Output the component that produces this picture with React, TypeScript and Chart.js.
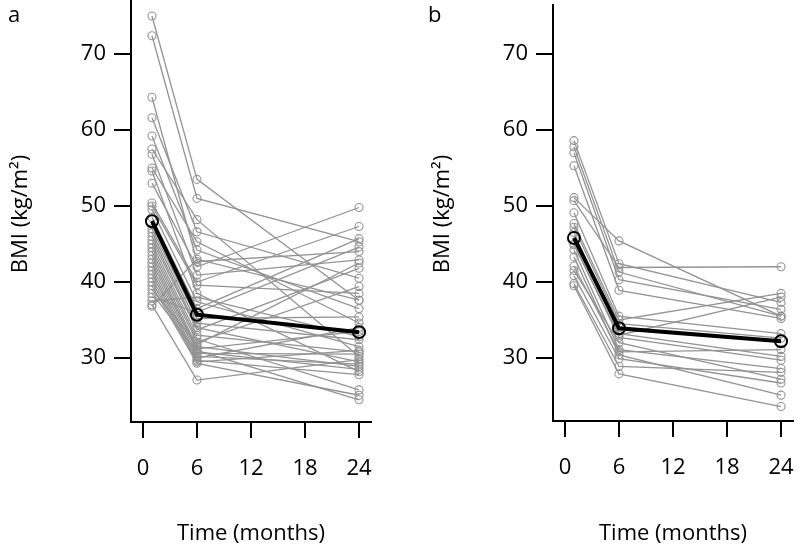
import React, { useEffect, useRef } from "react";
import { Chart, registerables } from "chart.js";

Chart.register(...registerables);

// ---- data ----
const MONTHS = [1, 6, 24];
const X_TICKS = [0, 6, 12, 18, 24];
const Y_TICKS = [30, 40, 50, 60, 70];

// Panel a: individual patients (BMI at 1, 6, 24 months)
const A_MONTH1 = [75.0, 72.4, 64.3, 61.6, 59.2, 57.5, 56.8, 55.0, 54.6, 53.0, 50.4, 50.0, 49.5, 48.5, 47.0, 46.5, 46.0, 45.5, 45.0, 44.5, 44.0, 43.5, 43.0, 42.5, 42.0, 41.5, 41.0, 40.5, 40.0, 39.5, 39.0, 38.5, 38.0, 37.5, 37.0, 36.8];
const A_MONTH6 = [53.5, 51.0, 42.7, 46.6, 44.2, 48.2, 40.9, 45.3, 38.5, 42.0, 40.0, 39.6, 37.4, 36.5, 35.2, 34.6, 34.0, 33.7, 33.0, 32.5, 32.1, 31.5, 31.2, 31.0, 30.6, 30.2, 30.0, 29.7, 29.5, 29.3, 31.8, 30.8, 36.0, 38.0, 27.1, 43.0];
const A_MONTH24 = [37.6, 45.3, 44.0, 40.5, 36.5, 30.2, 42.9, 34.6, 28.2, 49.8, 47.3, 38.5, 31.5, 45.7, 35.4, 32.4, 29.5, 41.8, 30.8, 25.8, 39.4, 28.9, 33.5, 24.5, 30.5, 29.2, 34.0, 27.8, 31.0, 25.1, 42.5, 28.5, 44.6, 32.8, 29.8, 37.6];
const A_MEAN = [48.0, 35.7, 33.4];

// Panel b
const B_MONTH1 = [58.6, 57.8, 57.0, 55.3, 51.1, 50.7, 49.1, 47.7, 47.2, 46.5, 45.0, 44.9, 44.2, 43.3, 42.1, 40.8, 39.8, 39.5, 41.5];
const B_MONTH6 = [42.4, 41.3, 40.3, 38.9, 45.4, 41.9, 35.5, 35.0, 34.5, 33.2, 32.7, 33.0, 31.1, 30.4, 30.8, 29.9, 28.9, 27.9, 32.0];
const B_MONTH24 = [37.3, 35.5, 36.4, 35.2, 35.5, 42.0, 33.2, 38.5, 32.6, 30.2, 29.7, 38.0, 28.6, 25.1, 31.1, 26.7, 28.1, 23.6, 27.2];
const B_MEAN = [45.8, 33.9, 32.2];

const FONT = '"Open Sans", "DejaVu Sans", sans-serif';
const X_MIN = -1.33;
const X_MAX = 25.33;

type Panel = {
  letter: string;
  m1: number[];
  m6: number[];
  m24: number[];
  mean: number[];
  yMin: number;
  yMax: number;
  axisLeft: number;
  padRight: number;
  padTop: number;
  xAxisHeight: number;
  letterX: number;
  titleX: number;
};

const PANELS: Panel[] = [
  { letter: "a", m1: A_MONTH1, m6: A_MONTH6, m24: A_MONTH24, mean: A_MEAN, yMin: 21.58, yMax: 77.1, axisLeft: 131, padRight: 29, padTop: 0, xAxisHeight: 127, letterX: 8, titleX: 21 },
  { letter: "b", m1: B_MONTH1, m6: B_MONTH6, m24: B_MONTH24, mean: B_MEAN, yMin: 21.7, yMax: 76.45, axisLeft: 153, padRight: 7, padTop: 5, xAxisHeight: 128, letterX: 28, titleX: 43 },
];

function buildConfig(p: Panel): any {
  const cols = [p.m1, p.m6, p.m24];
  const patients = p.m1.map((_, i) => ({
    data: MONTHS.map((m, j) => ({ x: m, y: cols[j][i] })),
    borderColor: "#939393",
    borderWidth: 1.3,
    pointRadius: 4,
    pointBorderWidth: 1.1,
    pointBorderColor: "#939393",
    pointBackgroundColor: "rgba(0,0,0,0)",
    fill: false,
    clip: false,
  }));
  const meanSet = {
    data: MONTHS.map((m, j) => ({ x: m, y: p.mean[j] })),
    borderColor: "#000",
    borderWidth: 4,
    pointRadius: 6,
    pointBorderWidth: 2,
    pointBorderColor: "#000",
    pointBackgroundColor: "rgba(0,0,0,0)",
    fill: false,
    clip: false,
  };
  const textPlugin = {
    id: "panelText" + p.letter,
    afterDraw(chart: any) {
      const ctx = chart.ctx;
      ctx.save();
      ctx.fillStyle = "#000";
      ctx.font = `22px ${FONT}`;
      ctx.textAlign = "left";
      ctx.textBaseline = "middle";
      ctx.fillText(p.letter, p.letterX, 16);
      ctx.translate(p.titleX, 214);
      ctx.rotate(-Math.PI / 2);
      ctx.textAlign = "center";
      ctx.fillText("BMI (kg/m²)", 0, 0);
      ctx.restore();
    },
  };
  return {
    type: "line",
    data: { datasets: [meanSet, ...patients] },
    plugins: [textPlugin],
    options: {
      animation: false,
      responsive: false,
      maintainAspectRatio: false,
      layout: { autoPadding: false, padding: { left: 0, right: p.padRight, top: p.padTop, bottom: 0 } },
      plugins: { legend: { display: false }, tooltip: { enabled: false } },
      elements: { line: { tension: 0 } },
      scales: {
        x: {
          type: "linear",
          min: X_MIN,
          max: X_MAX,
          afterBuildTicks: (s: any) => {
            s.ticks = X_TICKS.map((v) => ({ value: v }));
          },
          afterFit: (s: any) => {
            s.height = p.xAxisHeight;
            s.paddingLeft = 0;
            s.paddingRight = 0;
          },
          grid: { drawOnChartArea: false, drawTicks: true, tickLength: 16, color: "#000", lineWidth: 2 },
          border: { display: true, color: "#000", width: 2 },
          ticks: { color: "#000", font: { family: FONT, size: 22 }, padding: 18, maxRotation: 0, autoSkip: false },
          title: { display: true, text: "Time (months)", color: "#000", font: { family: FONT, size: 22 }, padding: { top: 0, bottom: 2 } },
        },
        y: {
          type: "linear",
          min: p.yMin,
          max: p.yMax,
          afterBuildTicks: (s: any) => {
            s.ticks = Y_TICKS.map((v) => ({ value: v }));
          },
          afterFit: (s: any) => {
            s.width = p.axisLeft;
            s.paddingTop = 0;
            s.paddingBottom = 0;
          },
          grid: { drawOnChartArea: false, drawTicks: true, tickLength: 17, color: "#000", lineWidth: 2 },
          border: { display: true, color: "#000", width: 2 },
          ticks: { color: "#000", font: { family: FONT, size: 22 }, padding: 8, autoSkip: false },
        },
      },
    },
  };
}

function PanelChart({ panel, left }: { panel: Panel; left: number }) {
  const ref = useRef<HTMLCanvasElement | null>(null);
  useEffect(() => {
    if (!ref.current) return;
    const chart = new Chart(ref.current, buildConfig(panel));
    return () => chart.destroy();
  }, [panel]);
  return (
    <canvas
      ref={ref}
      width={400}
      height={549}
      style={{ position: "absolute", left, top: 0, width: 400, height: 549 }}
    />
  );
}

export default function App() {
  return (
    <div style={{ position: "fixed", left: 0, top: 0, width: 800, height: 549, background: "#fff" }}>
      <PanelChart panel={PANELS[0]} left={0} />
      <PanelChart panel={PANELS[1]} left={400} />
    </div>
  );
}
